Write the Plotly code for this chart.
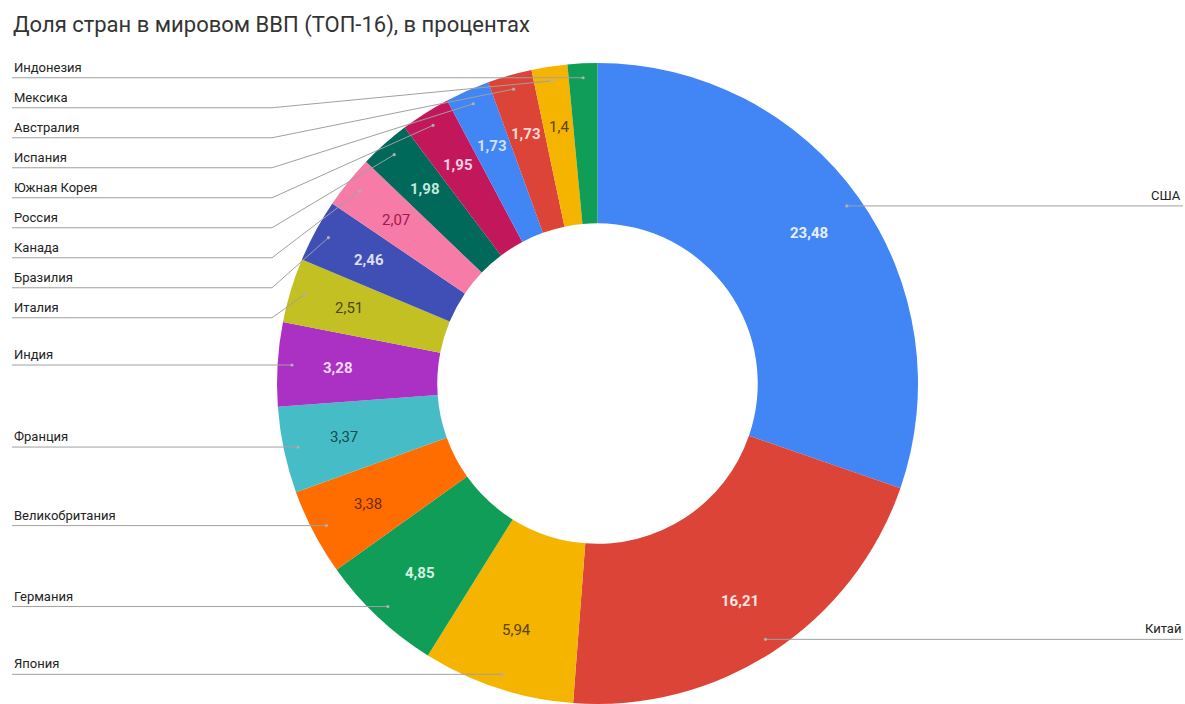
import math
import plotly.graph_objects as go

# ---------------- data ----------------
countries = ["США", "Китай", "Япония", "Германия", "Великобритания", "Франция",
             "Индия", "Италия", "Бразилия", "Канада", "Россия", "Южная Корея",
             "Испания", "Австралия", "Мексика", "Индонезия"]
shares = [23.48, 16.21, 5.94, 4.85, 3.38, 3.37, 3.28, 2.51, 2.46, 2.07, 1.98,
          1.95, 1.73, 1.73, 1.4, 1.16]
title_text = "Доля стран в мировом ВВП (ТОП-16), в процентах"

# ---------------- style ----------------
slice_colors = ["#4285F4", "#DB4437", "#F4B400", "#0F9D58", "#FF6D01", "#46BDC6",
                "#AB30C4", "#C3C023", "#3F4FB5", "#F77BA7", "#00695A", "#C2185B",
                "#4285F4", "#DB4437", "#F4B400", "#0F9D58"]
label_colors = ["#E6EFFE", "#FBE4E1", "#5A4300", "#D2F0E1", "#6E2B00", "#164A4E",
                "#F7DCFB", "#48470A", "#DCDFF6", "#A0174E", "#C4E8DA", "#FAD0E1",
                "#D0E1FD", "#FBD9D5", "#5A4300", "#D2F0E1"]
bold_label = [True, True, False, True, False, False, True, False, True, False,
              True, True, True, True, False, True]

W, H = 1185, 704
FONT = "Roboto, 'Noto Sans', Arial, sans-serif"
cx, top_px = 597.5, 63.0
R = (H - top_px) / 2.0          # pie radius in px (domain is square-limited by height)
cy = top_px + R
hole = 0.5
dot_r = 0.955 * R
label_r = 0.81 * R
left_text_x, right_text_x = 12, 1183
bend_x = 272
min_gap = 30

total = sum(shares)


def fmt(v):
    return f"{v:g}".replace(".", ",")


fig = go.Figure()

fig.add_trace(go.Pie(
    labels=countries,
    values=shares,
    textinfo="none",
    marker=dict(colors=slice_colors, line=dict(width=0)),
    hole=hole,
    sort=False,
    direction="clockwise",
    rotation=0,
    hoverinfo="label+value",
    showlegend=False,
    domain=dict(x=[(cx - R) / W, (cx + R) / W], y=[0, 1 - top_px / H]),
))

# slice mid-angles -> dot and label positions
cum = 0.0
dots = []
for name, v in zip(countries, shares):
    mid = (cum + v / 2.0) / total * 2 * math.pi
    cum += v
    dots.append((name, v, mid))


def polar(r, a):
    return cx + r * math.sin(a), cy - r * math.cos(a)


# anchor trace for the pixel-scaled axes (invisible)
fig.add_trace(go.Scatter(
    x=[polar(dot_r, d[2])[0] for d in dots], y=[polar(dot_r, d[2])[1] for d in dots],
    mode="markers", marker=dict(size=1, opacity=0), hoverinfo="skip", showlegend=False,
))

shapes = []
annotations = []
line_style = dict(color="#A0A0A0", width=1)

left = sorted([d for d in dots if d[2] > math.pi], key=lambda d: polar(dot_r, d[2])[1])
right = [d for d in dots if d[2] <= math.pi]

prev = -1e9
for name, v, mid in left:
    dx, dy = polar(dot_r, mid)
    ly = max(dy, prev + min_gap)
    prev = ly
    if abs(ly - dy) < 0.5:
        path = f"M {left_text_x},{ly} L {dx},{dy}"
    else:
        path = f"M {left_text_x},{ly} L {bend_x},{ly} L {dx},{dy}"
    shapes.append(dict(type="path", path=path, xref="x", yref="y",
                       line=line_style, layer="above"))
    annotations.append(dict(x=left_text_x, y=ly - 1, xref="x", yref="y",
                            text=name, showarrow=False, xanchor="left",
                            yanchor="bottom",
                            font=dict(family=FONT, size=13, color="#222222")))

for name, v, mid in right:
    dx, dy = polar(dot_r, mid)
    shapes.append(dict(type="line", x0=dx, y0=dy, x1=right_text_x, y1=dy,
                       xref="x", yref="y", line=line_style, layer="above"))
    annotations.append(dict(x=right_text_x, y=dy - 1, xref="x", yref="y",
                            text=name, showarrow=False, xanchor="right",
                            yanchor="bottom",
                            font=dict(family=FONT, size=13, color="#222222")))

for name, v, mid in dots:
    dx, dy = polar(dot_r, mid)
    shapes.append(dict(type="circle", xref="x", yref="y",
                       x0=dx - 1.6, x1=dx + 1.6, y0=dy - 1.6, y1=dy + 1.6,
                       fillcolor="#B0B0B0", line=dict(width=0), layer="above"))

# value labels inside the slices
for (name, v, mid), col, b in zip(dots, label_colors, bold_label):
    if v / total < 0.016:
        continue
    tx, ty = polar(label_r, mid)
    s = fmt(v)
    annotations.append(dict(x=tx, y=ty, xref="x", yref="y",
                            text=f"<b>{s}</b>" if b else s, showarrow=False,
                            xanchor="center", yanchor="middle",
                            font=dict(family=FONT, size=15, color=col)))

annotations.append(dict(x=11, y=25, xref="x", yref="y", text=title_text,
                        showarrow=False, xanchor="left", yanchor="middle",
                        font=dict(family=FONT, size=22, color="#333333")))

fig.update_layout(
    width=W, height=H,
    margin=dict(l=0, r=0, t=0, b=0),
    paper_bgcolor="white", plot_bgcolor="white",
    showlegend=False,
    xaxis=dict(range=[0, W], visible=False, fixedrange=True, domain=[0, 1]),
    yaxis=dict(range=[H, 0], visible=False, fixedrange=True, domain=[0, 1]),
    shapes=shapes,
    annotations=annotations,
)

fig.write_html("out.html", config={"displayModeBar": False},
               post_script="document.body.style.margin='0';document.body.style.overflow='hidden';")
